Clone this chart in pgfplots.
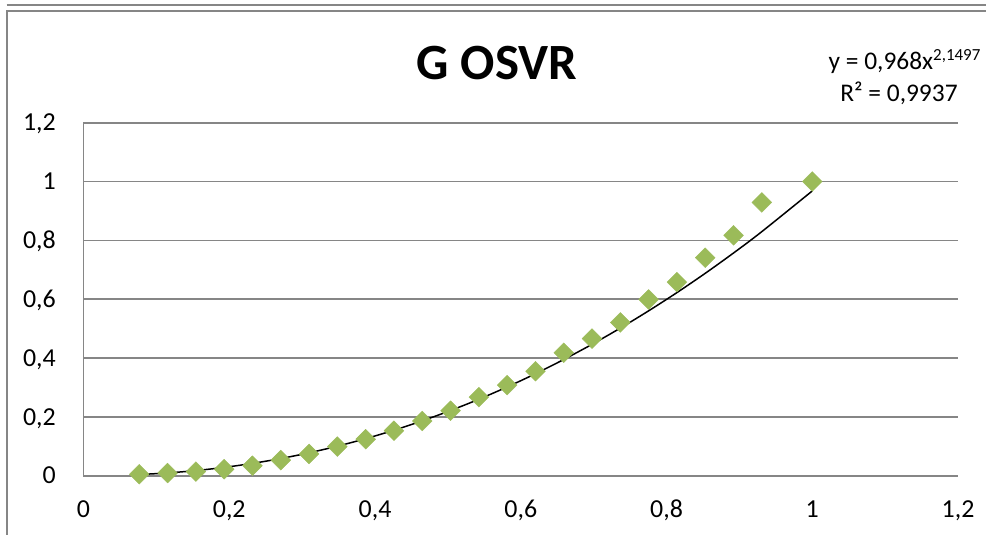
\documentclass[border=0pt]{standalone}
\usepackage{pgfplots}
\pgfplotsset{compat=1.18}
\usepackage{fontspec}
\setmainfont{Carlito}
\definecolor{mgreen}{HTML}{9BBB59}
\definecolor{gridgray}{HTML}{868686}

\begin{document}
\begin{tikzpicture}[x=1bp,y=1bp]
\begin{axis}[
    width=874.5bp, height=353bp, scale only axis,
    xmin=0, xmax=1.2, ymin=0, ymax=1.2,
    xtick={0,0.2,0.4,0.6,0.8,1,1.2},
    ytick={0,0.2,0.4,0.6,0.8,1,1.2},
    axis x line*=bottom, axis y line*=left,
    axis line style={gridgray, line width=1.7bp, -},
    ymajorgrids=true,
    grid style={gridgray, line width=1.7bp},
    major tick length=0pt,
    clip=false,
    /pgf/number format/.cd, use comma, assume math mode=true,
    /pgfplots/.cd,
    ticklabel style={font=\fontsize{26}{26}\selectfont, inner sep=0pt},
    xticklabel style={anchor=base, yshift=-41.6bp},
    yticklabel style={anchor=base east, xshift=-27.5bp, yshift=-8.2bp},
]
% data points
\addplot[only marks, mark=square*, mark size=7bp,
    mark options={rotate=45, fill=mgreen, draw=mgreen}]
    coordinates {
    (0.0765,0.005)(0.1154,0.009)(0.1542,0.014)(0.1930,0.022)
    (0.2318,0.034)(0.2707,0.053)(0.3095,0.074)(0.3483,0.099)
    (0.3872,0.124)(0.4260,0.153)(0.4648,0.186)(0.5037,0.221)
    (0.5425,0.267)(0.5813,0.308)(0.6202,0.355)(0.6590,0.418)
    (0.6978,0.466)(0.7366,0.521)(0.7755,0.599)(0.8143,0.658)
    (0.8531,0.741)(0.8920,0.817)(0.9308,0.929)(1.0,1.0)
    };
% power trendline y = 0,968 x^2,1497 (values at the data x)
\addplot[black, line width=1.5bp, smooth, no marks]
    coordinates {
    (0.0765,0.0039)(0.1154,0.0093)(0.1542,0.0174)(0.1930,0.0282)
    (0.2318,0.0418)(0.2707,0.0583)(0.3095,0.0778)(0.3483,0.1003)
    (0.3872,0.1259)(0.4260,0.1546)(0.4648,0.1865)(0.5037,0.2216)
    (0.5425,0.2599)(0.5813,0.3016)(0.6202,0.3466)(0.6590,0.3950)
    (0.6978,0.4466)(0.7366,0.5017)(0.7755,0.5605)(0.8143,0.6224)
    (0.8531,0.6879)(0.8920,0.7571)(0.9308,0.8297)(1.0,0.968)
    };
\end{axis}
% title and trendline label
\node[anchor=base, font=\fontsize{51}{51}\selectfont\bfseries] at (413.5,396) {G OSVR};
\node[anchor=base west, font=\fontsize{25.5}{25.5}\selectfont, inner sep=0pt] at (745,406.4)
    {y = 0,968x\raisebox{0.36em}{\fontsize{17}{17}\selectfont 2,1497}};
\node[anchor=base, font=\fontsize{25.5}{25.5}\selectfont] at (815.5,374) {R² = 0,9937};
% chart frame
\draw[gridgray, line width=2bp] (-76.8,-59.3) -- (-76.8,465) -- (902.5,465);
\draw[gridgray, line width=2bp] (-76.8,470.7) -- (902.5,470.7);
\pgfresetboundingbox
\path[use as bounding box] (-83.5,-59.3) rectangle (902.5,475.7);
\end{tikzpicture}
\end{document}
